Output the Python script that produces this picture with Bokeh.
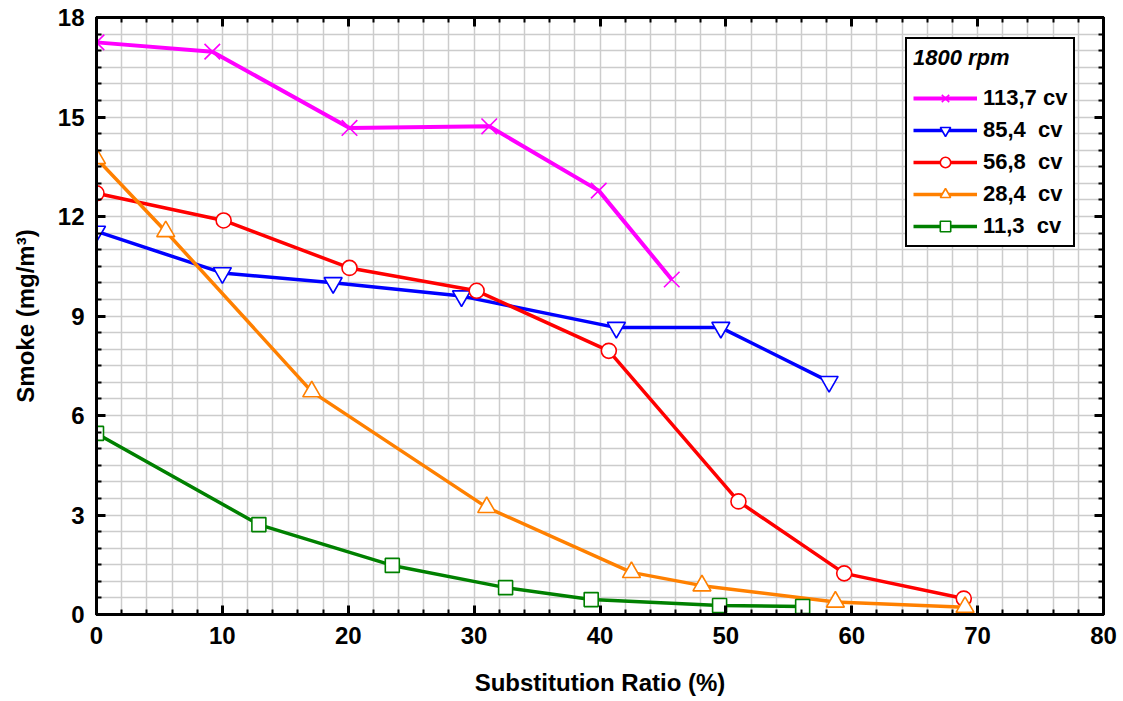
from bokeh.plotting import figure
from bokeh.models import (LinearAxis, SingleIntervalTicker, Range1d, Legend, LegendItem,
                          CustomJSTickFormatter)
from bokeh.embed import file_html
from bokeh.resources import INLINE

# ---- data ----
x_1137 = [0, 9.2, 20.1, 31.2, 39.9, 45.7]
y_1137 = [17.25, 16.97, 14.67, 14.72, 12.78, 10.1]

x_854 = [0, 10.0, 18.8, 29.0, 41.3, 49.6, 58.2]
y_854 = [11.55, 10.3, 10.0, 9.6, 8.65, 8.65, 7.02]

x_568 = [0, 10.1, 20.1, 30.2, 40.7, 51.0, 59.4, 68.9]
y_568 = [12.7, 11.88, 10.45, 9.76, 7.95, 3.41, 1.24, 0.48]

x_284 = [0, 5.5, 17.1, 31.0, 42.5, 48.1, 58.7, 69.0]
y_284 = [13.75, 11.55, 6.72, 3.23, 1.27, 0.87, 0.38, 0.22]

x_113 = [0, 12.9, 23.5, 32.5, 39.3, 49.5, 56.1]
y_113 = [5.46, 2.71, 1.48, 0.81, 0.45, 0.27, 0.24]

labels = ["113,7 cv", "85,4  cv", "56,8  cv", "28,4  cv", "11,3  cv"]
xs_all = [x_1137, x_854, x_568, x_284, x_113]
ys_all = [y_1137, y_854, y_568, y_284, y_113]
colors = ["#ff00ff", "#0000ff", "#ff0000", "#ff8000", "#008000"]
markers = ["x", "inverted_triangle", "circle", "triangle", "square"]
msizes = [22, 18, 15, 18, 14]
lwidths = [4, 3.5, 3.5, 3.5, 3.5]

legend_title = "1800 rpm"
x_title = "Substitution Ratio (%)"
y_title = "Smoke (mg/m³)"

FONT = "Liberation Sans"

p = figure(width=1123, height=701, output_backend="svg", toolbar_location=None,
           x_range=Range1d(0, 80), y_range=Range1d(0, 18),
           min_border_left=96, min_border_right=20, min_border_top=17, min_border_bottom=87)
p.background_fill_color = "white"
p.border_fill_color = "white"
p.outline_line_color = "black"
p.outline_line_width = 3

def style_axis(ax, labels=True):
    ax.axis_line_width = 3
    ax.axis_line_color = "black"
    ax.major_tick_in = 9
    ax.major_tick_out = 0
    ax.minor_tick_in = 5
    ax.minor_tick_out = 0
    ax.major_tick_line_width = 3
    ax.minor_tick_line_width = 2
    ax.major_label_text_font = FONT
    ax.major_label_text_font_style = "bold"
    ax.major_label_text_font_size = "24px"
    ax.major_label_text_color = "black"
    ax.axis_label_text_font = FONT
    ax.axis_label_text_font_style = "bold"
    ax.axis_label_text_font_size = "24px"
    ax.axis_label_text_color = "black"
    if not labels:
        ax.formatter = CustomJSTickFormatter(code="return ''")
        ax.major_label_text_font_size = "2px"
        ax.major_label_standoff = 0

p.xaxis.ticker = SingleIntervalTicker(interval=10, num_minor_ticks=5)
p.yaxis.ticker = SingleIntervalTicker(interval=3, num_minor_ticks=6)
style_axis(p.xaxis[0])
style_axis(p.yaxis[0])
p.xaxis.axis_label = x_title
p.yaxis.axis_label = y_title
p.xaxis.major_label_standoff = 12
p.yaxis.major_label_standoff = 12
p.xaxis.axis_label_standoff = 22
p.yaxis.axis_label_standoff = 16

top = LinearAxis(ticker=SingleIntervalTicker(interval=10, num_minor_ticks=5))
right = LinearAxis(ticker=SingleIntervalTicker(interval=3, num_minor_ticks=6))
style_axis(top, labels=False)
style_axis(right, labels=False)
p.add_layout(top, "above")
p.add_layout(right, "right")

p.xgrid.ticker = SingleIntervalTicker(interval=2)
p.ygrid.ticker = SingleIntervalTicker(interval=0.5)
for g in (p.xgrid[0], p.ygrid[0]):
    g.grid_line_color = "#cccccc"
    g.grid_line_width = 1.5

items = []
for name, xs, ys, col, mk, ms, lw in zip(labels, xs_all, ys_all, colors, markers, msizes, lwidths):
    r1 = p.line(xs, ys, line_color=col, line_width=lw)
    r2 = p.scatter(xs, ys, marker=mk, size=ms, line_color=col, fill_color="white",
                   line_width=1.6)
    items.append(LegendItem(label=name, renderers=[r1, r2]))

leg = Legend(items=items, location=(809, 367), title=legend_title)
leg.title_text_font = FONT
leg.title_text_font_style = "bold italic"
leg.title_text_font_size = "22px"
leg.title_text_color = "black"
leg.title_standoff = 14
leg.label_text_font = FONT
leg.label_text_font_style = "bold"
leg.label_text_font_size = "22px"
leg.label_text_color = "black"
leg.label_standoff = 6
leg.glyph_width = 64
leg.glyph_height = 26
leg.spacing = 6
leg.padding = 6
leg.margin = 0
leg.border_line_color = "black"
leg.border_line_width = 2.5
leg.border_line_alpha = 1
leg.background_fill_alpha = 1
p.add_layout(leg, "center")

open("out.html", "w").write(file_html(p, INLINE))
